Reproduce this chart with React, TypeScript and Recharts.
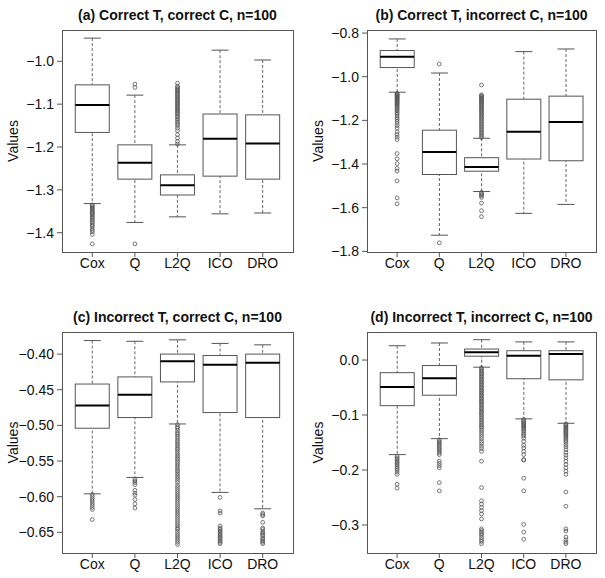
import React from 'react';
import { ComposedChart, Bar, Scatter, XAxis, YAxis } from 'recharts';

const CATEGORIES = ['Cox', 'Q', 'L2Q', 'ICO', 'DRO'];

// (a) Correct T, correct C
const A_LOW = [-1.332, -1.376, -1.363, -1.356, -1.354];
const A_Q1 = [-1.166, -1.275, -1.312, -1.268, -1.275];
const A_MED = [-1.102, -1.237, -1.289, -1.181, -1.192];
const A_Q3 = [-1.055, -1.195, -1.265, -1.123, -1.125];
const A_HIGH = [-0.946, -1.079, -1.195, -0.974, -0.997];
const A_OUT = [
  [-1.335, -1.337, -1.340, -1.342, -1.345, -1.347, -1.350, -1.353, -1.355, -1.358, -1.361, -1.364, -1.367, -1.371, -1.374, -1.378, -1.382, -1.385, -1.390, -1.394, -1.398, -1.404, -1.426],
  [-1.053, -1.061, -1.426],
  [-1.051, -1.058, -1.061, -1.064, -1.067, -1.069, -1.072, -1.075, -1.077, -1.080, -1.083, -1.086, -1.089, -1.091, -1.094, -1.097, -1.100, -1.103, -1.106, -1.108, -1.111, -1.114, -1.117, -1.120, -1.123, -1.127, -1.130, -1.134, -1.138, -1.142, -1.146, -1.150, -1.156, -1.162, -1.171, -1.179, -1.187, -1.193],
  [],
  [],
];
const A_TICKS = [-1.4, -1.3, -1.2, -1.1, -1.0];

// (b) Correct T, incorrect C
const B_LOW = [-1.071, -1.726, -1.526, -1.626, -1.585];
const B_Q1 = [-0.958, -1.448, -1.433, -1.377, -1.385];
const B_MED = [-0.909, -1.345, -1.414, -1.252, -1.208];
const B_Q3 = [-0.880, -1.245, -1.371, -1.103, -1.089];
const B_HIGH = [-0.827, -0.983, -1.282, -0.885, -0.873];
const B_OUT = [
  [-1.076, -1.079, -1.082, -1.085, -1.088, -1.092, -1.095, -1.098, -1.102, -1.105, -1.109, -1.113, -1.117, -1.121, -1.126, -1.130, -1.135, -1.140, -1.146, -1.152, -1.158, -1.165, -1.172, -1.180, -1.188, -1.196, -1.205, -1.214, -1.224, -1.235, -1.253, -1.265, -1.277, -1.288, -1.352, -1.376, -1.398, -1.420, -1.432, -1.477, -1.555, -1.582],
  [-0.942, -1.761],
  [-1.038, -1.083, -1.087, -1.091, -1.095, -1.099, -1.103, -1.108, -1.112, -1.117, -1.122, -1.127, -1.132, -1.137, -1.142, -1.148, -1.153, -1.159, -1.165, -1.171, -1.177, -1.183, -1.190, -1.196, -1.203, -1.210, -1.217, -1.224, -1.231, -1.238, -1.245, -1.252, -1.259, -1.266, -1.273, -1.279, -1.530, -1.535, -1.540, -1.546, -1.553, -1.579, -1.614, -1.641],
  [],
  [],
];
const B_TICKS = [-1.8, -1.6, -1.4, -1.2, -1.0, -0.8];

// (c) Incorrect T, correct C
const C_LOW = [-0.596, -0.573, -0.498, -0.594, -0.617];
const C_Q1 = [-0.504, -0.489, -0.439, -0.482, -0.489];
const C_MED = [-0.472, -0.457, -0.410, -0.415, -0.412];
const C_Q3 = [-0.442, -0.432, -0.400, -0.402, -0.400];
const C_HIGH = [-0.381, -0.382, -0.380, -0.385, -0.387];
const C_OUT = [
  [-0.597, -0.600, -0.603, -0.606, -0.609, -0.612, -0.615, -0.618, -0.632],
  [-0.576, -0.578, -0.580, -0.583, -0.591, -0.595, -0.598, -0.604, -0.610, -0.616],
  [-0.499, -0.502, -0.504, -0.507, -0.510, -0.512, -0.515, -0.518, -0.521, -0.523, -0.526, -0.529, -0.532, -0.534, -0.537, -0.540, -0.543, -0.546, -0.548, -0.551, -0.554, -0.557, -0.560, -0.563, -0.565, -0.568, -0.571, -0.574, -0.577, -0.580, -0.584, -0.587, -0.590, -0.593, -0.596, -0.599, -0.602, -0.605, -0.608, -0.611, -0.614, -0.617, -0.620, -0.623, -0.626, -0.629, -0.632, -0.635, -0.638, -0.641, -0.644, -0.646, -0.649, -0.652, -0.655, -0.658, -0.661, -0.664, -0.667],
  [-0.601, -0.620, -0.623, -0.641, -0.644, -0.646, -0.648, -0.650, -0.652, -0.654, -0.656, -0.658, -0.660, -0.662, -0.664, -0.666],
  [-0.623, -0.625, -0.627, -0.636, -0.644, -0.646, -0.649, -0.651, -0.653, -0.655, -0.658, -0.660, -0.662, -0.664, -0.666],
];
const C_TICKS = [-0.65, -0.6, -0.55, -0.5, -0.45, -0.4];

// (d) Incorrect T, incorrect C
const D_LOW = [-0.172, -0.143, -0.013, -0.107, -0.115];
const D_Q1 = [-0.083, -0.064, 0.007, -0.034, -0.036];
const D_MED = [-0.049, -0.033, 0.014, 0.008, 0.011];
const D_Q3 = [-0.023, -0.010, 0.020, 0.017, 0.017];
const D_HIGH = [0.026, 0.031, 0.037, 0.033, 0.033];
const D_OUT = [
  [-0.175, -0.178, -0.180, -0.183, -0.186, -0.188, -0.191, -0.194, -0.197, -0.200, -0.204, -0.208, -0.226, -0.233],
  [-0.145, -0.148, -0.150, -0.153, -0.155, -0.158, -0.161, -0.163, -0.166, -0.169, -0.172, -0.184, -0.188, -0.192, -0.196, -0.223, -0.238],
  [-0.014, -0.016, -0.019, -0.021, -0.024, -0.026, -0.029, -0.031, -0.034, -0.036, -0.039, -0.041, -0.044, -0.046, -0.049, -0.051, -0.054, -0.056, -0.059, -0.061, -0.064, -0.066, -0.069, -0.071, -0.074, -0.076, -0.079, -0.081, -0.084, -0.087, -0.089, -0.092, -0.095, -0.097, -0.100, -0.103, -0.106, -0.109, -0.112, -0.115, -0.118, -0.121, -0.123, -0.127, -0.131, -0.135, -0.139, -0.143, -0.148, -0.152, -0.157, -0.161, -0.166, -0.184, -0.232, -0.256, -0.262, -0.268, -0.274, -0.280, -0.289, -0.307, -0.310, -0.313, -0.316, -0.319, -0.323, -0.327, -0.330, -0.334],
  [-0.108, -0.110, -0.112, -0.114, -0.116, -0.118, -0.120, -0.122, -0.124, -0.126, -0.129, -0.132, -0.135, -0.138, -0.142, -0.148, -0.155, -0.160, -0.166, -0.172, -0.181, -0.182, -0.215, -0.238, -0.299, -0.313, -0.326],
  [-0.116, -0.118, -0.120, -0.122, -0.124, -0.126, -0.128, -0.130, -0.132, -0.134, -0.136, -0.139, -0.141, -0.144, -0.147, -0.150, -0.154, -0.158, -0.163, -0.168, -0.173, -0.178, -0.184, -0.190, -0.196, -0.202, -0.208, -0.240, -0.266, -0.307, -0.311, -0.322, -0.327, -0.331, -0.334],
];
const D_TICKS = [-0.3, -0.2, -0.1, 0.0];

const FONT = '"Liberation Sans", Arial, Helvetica, sans-serif';
const LINE = '#555';
const BOX_W = 34;

const Whisker = (props: any) => {
  const { x, y, width, height } = props;
  const cx = x + width / 2;
  const cap = width / 4;
  return (
    <g>
      <line x1={cx} x2={cx} y1={y} y2={y + height} stroke="#666" strokeDasharray="3 2" />
      <line x1={cx - cap} x2={cx + cap} y1={y} y2={y} stroke={LINE} />
      <line x1={cx - cap} x2={cx + cap} y1={y + height} y2={y + height} stroke={LINE} />
    </g>
  );
};

const BoxShape = (props: any) => {
  const { x, y, width, height } = props;
  return <rect x={x} y={y} width={width} height={height} fill="#fff" stroke={LINE} />;
};

const MedianShape = (props: any) => {
  const { cx, cy } = props;
  return <line x1={cx - BOX_W / 2} x2={cx + BOX_W / 2} y1={cy} y2={cy} stroke="#000" strokeWidth={2} />;
};

const OutlierShape = (props: any) => {
  const { cx, cy } = props;
  return <circle cx={cx} cy={cy} r={1.9} fill="none" stroke={LINE} strokeWidth={0.8} />;
};

const minus = (s: string) => s.replace('-', '\u2212');

interface PanelProps {
  title: string;
  low: number[];
  q1: number[];
  med: number[];
  q3: number[];
  high: number[];
  out: number[][];
  domain: [number, number];
  ticks: number[];
  digits: number;
  left: number;
  top: number;
  width: number;
  height: number;
  margin: { top: number; right: number; bottom: number; left: number };
}

const BoxPanel: React.FC<PanelProps> = ({ title, low, q1, med, q3, high, out, domain, ticks, digits, left, top, width, height, margin }) => {
  const rows = CATEGORIES.map((name, i) => ({
    name,
    whisker: [low[i], high[i]],
    box: [q1[i], q3[i]],
    median: med[i],
  }));
  const points = CATEGORIES.flatMap((name, i) => out[i].map(v => ({ name, v })));
  const yAxisW = 45;
  const plotL = margin.left + yAxisW;
  const plotT = margin.top;
  const plotW = width - plotL - margin.right;
  const plotH = height - margin.top - margin.bottom - 20;

  return (
    <div style={{ position: 'absolute', left, top, width, height }}>
      <ComposedChart width={width} height={height} data={rows} margin={margin} barCategoryGap="10%">
        <XAxis
          xAxisId="main"
          dataKey="name"
          type="category"
          allowDuplicatedCategory={false}
          padding={{ left: 9, right: 9 }}
          height={20}
          axisLine={false}
          tickSize={5}
          tickMargin={1}
          tickLine={{ stroke: LINE }}
          tick={{ fontSize: 14, fill: '#111', fontFamily: FONT }}
        />
        <XAxis xAxisId="w" dataKey="name" type="category" padding={{ left: 9, right: 9 }} hide />
        <YAxis
          type="number"
          domain={domain}
          ticks={ticks}
          width={yAxisW}
          axisLine={false}
          tickSize={5}
          tickMargin={3}
          tickLine={{ stroke: LINE }}
          tickFormatter={(v: number) => minus(v.toFixed(digits))}
          tick={{ fontSize: 14, fill: '#111', fontFamily: FONT }}
          allowDataOverflow
        />
        <Bar xAxisId="w" dataKey="whisker" shape={Whisker} isAnimationActive={false} />
        <Bar xAxisId="main" dataKey="box" shape={BoxShape} isAnimationActive={false} />
        <Scatter xAxisId="main" dataKey="median" shape={MedianShape} isAnimationActive={false} />
        <Scatter xAxisId="main" data={points} dataKey="v" shape={OutlierShape} isAnimationActive={false} />
      </ComposedChart>
      <div
        style={{
          position: 'absolute',
          left: plotL,
          top: plotT,
          width: plotW - 1,
          height: plotH - 1,
          border: `1px solid ${LINE}`,
          pointerEvents: 'none',
        }}
      />
      <svg width={width} height={height} style={{ position: 'absolute', left: 0, top: 0, pointerEvents: 'none' }}>
        <text x={plotL + plotW / 2} y={plotT - 10} textAnchor="middle" fontFamily={FONT} fontWeight="bold" fontSize={14} fill="#111">
          {title}
        </text>
        <text
          x={plotL - 44}
          y={plotT + plotH / 2}
          textAnchor="middle"
          fontFamily={FONT}
          fontSize={14}
          fill="#111"
          transform={`rotate(-90 ${plotL - 44} ${plotT + plotH / 2})`}
        >
          Values
        </text>
      </svg>
    </div>
  );
};

export default function App() {
  return (
    <div style={{ position: 'absolute', left: 0, top: 0, width: 605, height: 578, background: '#fff' }}>
      <BoxPanel
        title="(a) Correct T, correct C, n=100"
        low={A_LOW} q1={A_Q1} med={A_MED} q3={A_Q3} high={A_HIGH} out={A_OUT}
        domain={[-1.445, -0.927]} ticks={A_TICKS} digits={1}
        left={0} top={0} width={302} height={289}
        margin={{ top: 30, right: 9, bottom: 17, left: 17 }}
      />
      <BoxPanel
        title="(b) Correct T, incorrect C, n=100"
        low={B_LOW} q1={B_Q1} med={B_MED} q3={B_Q3} high={B_HIGH} out={B_OUT}
        domain={[-1.803, -0.786]} ticks={B_TICKS} digits={1}
        left={302} top={0} width={303} height={289}
        margin={{ top: 30, right: 9, bottom: 17, left: 20 }}
      />
      <BoxPanel
        title="(c) Incorrect T, correct C, n=100"
        low={C_LOW} q1={C_Q1} med={C_MED} q3={C_Q3} high={C_HIGH} out={C_OUT}
        domain={[-0.679, -0.369]} ticks={C_TICKS} digits={2}
        left={0} top={289} width={302} height={289}
        margin={{ top: 43, right: 9, bottom: 5, left: 17 }}
      />
      <BoxPanel
        title="(d) Incorrect T, incorrect C, n=100"
        low={D_LOW} q1={D_Q1} med={D_MED} q3={D_Q3} high={D_HIGH} out={D_OUT}
        domain={[-0.351, 0.051]} ticks={D_TICKS} digits={1}
        left={302} top={289} width={303} height={289}
        margin={{ top: 43, right: 9, bottom: 5, left: 20 }}
      />
    </div>
  );
}
